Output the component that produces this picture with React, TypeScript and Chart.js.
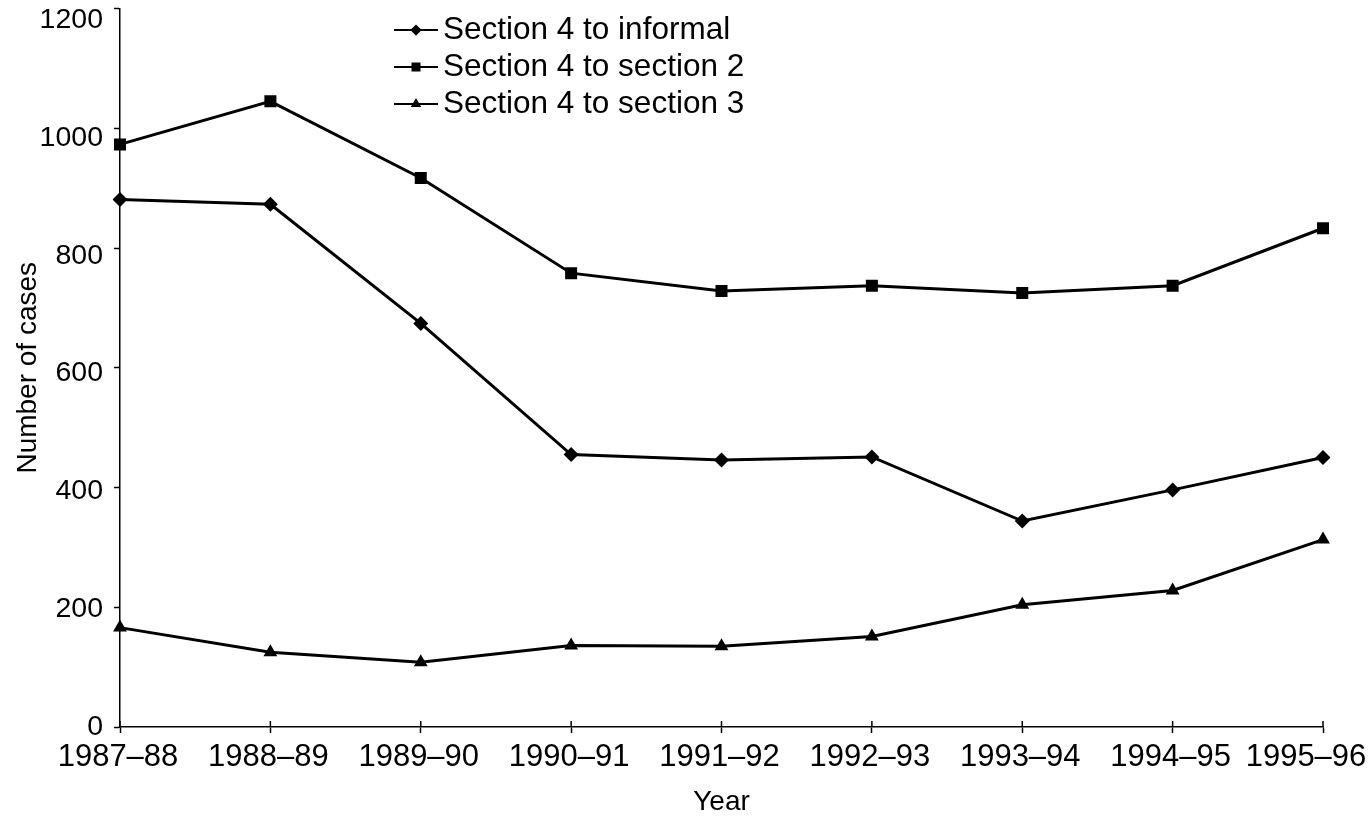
import React, { useEffect, useRef } from "react";
import { Chart, registerables } from "chart.js";

Chart.register(...registerables);

const years = ["1987–88", "1988–89", "1989–90", "1990–91", "1991–92", "1992–93", "1993–94", "1994–95", "1995–96"];
const toInformal = [881, 873, 674, 455, 446, 451, 344, 396, 450];
const toSection2 = [973, 1045, 917, 758, 728, 737, 725, 737, 833];
const toSection3 = [166, 125, 108, 136, 135, 151, 204, 228, 313];
const seriesNames = ["Section 4 to informal", "Section 4 to section 2", "Section 4 to section 3"];
const pointShapes = ["rectRot", "rect", "triangle"];
const pointSizes = [7.5, 8.5, 8];
const yMin = 0;
const yMax = 1200;
const yStep = 200;
const xTitle = "Year";
const yTitle = "Number of cases";

const FONT = "'Liberation Sans', Arial, Helvetica, sans-serif";
const LAST_LABEL_SHIFT = -15;
// the printed y labels sit slightly below their ticks, more so near the top
const Y_LABEL_DRIFT = 11.5;

function drawMarker(ctx: CanvasRenderingContext2D, shape: string, x: number, y: number, r: number) {
  ctx.beginPath();
  if (shape === "rectRot") {
    ctx.moveTo(x, y - r);
    ctx.lineTo(x + r, y);
    ctx.lineTo(x, y + r);
    ctx.lineTo(x - r, y);
    ctx.closePath();
  } else if (shape === "rect") {
    const s = r * Math.SQRT1_2;
    ctx.rect(x - s, y - s, 2 * s, 2 * s);
  } else {
    ctx.moveTo(x, y - r);
    ctx.lineTo(x + (r * Math.sqrt(3)) / 2, y + r / 2);
    ctx.lineTo(x - (r * Math.sqrt(3)) / 2, y + r / 2);
    ctx.closePath();
  }
  ctx.fill();
}

const legendPlugin = {
  id: "lineLegend",
  afterDraw(chart: any) {
    const ctx: CanvasRenderingContext2D = chart.ctx;
    ctx.save();
    const x0 = 394;
    const x1 = 438;
    const textX = 443;
    const rows = [30, 67, 104];
    chart.data.datasets.forEach((ds: any, i: number) => {
      const y = rows[i];
      ctx.strokeStyle = "#000";
      ctx.fillStyle = "#000";
      ctx.lineWidth = 2;
      ctx.beginPath();
      ctx.moveTo(x0, y);
      ctx.lineTo(x1, y);
      ctx.stroke();
      drawMarker(ctx, pointShapes[i], (x0 + x1) / 2, y, pointSizes[i] * 0.75);
      ctx.font = `31.5px ${FONT}`;
      ctx.textAlign = "left";
      ctx.textBaseline = "middle";
      ctx.fillText(ds.label, textX, y);
    });
    ctx.restore();
  },
};

const axisExtrasPlugin = {
  id: "axisExtras",
  afterDraw(chart: any) {
    const xs = chart.scales.x;
    const ys = chart.scales.y;
    const ctx: CanvasRenderingContext2D = chart.ctx;
    const bottom = chart.chartArea.bottom;
    ctx.save();
    ctx.strokeStyle = "#000";
    ctx.lineWidth = 1.5;
    xs.ticks.forEach((_t: any, i: number) => {
      const x = xs.getPixelForTick(i);
      ctx.beginPath();
      ctx.moveTo(x, bottom - 6);
      ctx.lineTo(x, bottom);
      ctx.stroke();
    });
    ctx.fillStyle = "#000";
    // last category label, nudged inward so it stays on the canvas
    const items = xs.getLabelItems();
    const last = items[items.length - 1];
    if (last) {
      const o = last.options;
      ctx.font = last.font && last.font.string ? last.font.string : `31px ${FONT}`;
      ctx.textAlign = "center";
      ctx.textBaseline = o.textBaseline;
      ctx.fillText(String(last.label), o.translation[0] + LAST_LABEL_SHIFT, o.translation[1] + (last.textOffset || 0));
    }
    // y labels, from the scale's own label items
    const yItems = ys.getLabelItems();
    yItems.forEach((it: any, i: number) => {
      const o = it.options;
      const v = ys.ticks[i] ? ys.ticks[i].value : 0;
      const drift = (v / yMax) * Y_LABEL_DRIFT;
      ctx.font = it.font && it.font.string ? it.font.string : `28.5px ${FONT}`;
      ctx.textAlign = o.textAlign;
      ctx.textBaseline = o.textBaseline;
      ctx.fillText(String(it.label), o.translation[0], o.translation[1] + (it.textOffset || 0) + drift);
    });
    ctx.restore();
  },
};

export default function App() {
  const canvasRef = useRef<HTMLCanvasElement | null>(null);

  useEffect(() => {
    if (!canvasRef.current) return;
    const seriesValues = [toInformal, toSection2, toSection3];
    const lastIndex = years.length - 1;
    const chart = new Chart(canvasRef.current, {
      type: "line",
      data: {
        labels: years,
        datasets: seriesValues.map((vals, i) => ({
          label: seriesNames[i],
          data: vals,
          borderColor: "#000",
          backgroundColor: "#000",
          borderWidth: 3,
          pointStyle: pointShapes[i] as any,
          pointRadius: pointSizes[i],
          pointBackgroundColor: "#000",
          pointBorderColor: "#000",
          pointBorderWidth: 0,
          tension: 0,
          fill: false,
        })),
      },
      options: {
        animation: false,
        responsive: true,
        maintainAspectRatio: false,
        devicePixelRatio: 1,
        layout: { padding: { top: 2, right: 49, bottom: 0, left: 0 } },
        plugins: {
          legend: { display: false },
          tooltip: { enabled: false },
        },
        scales: {
          x: {
            type: "category",
            offset: false,
            afterFit: (s: any) => {
              s.height = 89;
              s.paddingLeft = 0;
              s.paddingRight = 0;
            },
            border: { display: true, color: "#000", width: 1.5 },
            grid: {
              display: true,
              drawOnChartArea: false,
              drawTicks: true,
              tickLength: 6,
              tickWidth: 1.5,
              tickColor: "#000",
            },
            ticks: {
              color: (c: any) => (c.index === lastIndex ? "rgba(0,0,0,0)" : "#000"),
              font: { family: FONT, size: 31 },
              padding: 6,
              labelOffset: -2,
              maxRotation: 0,
              autoSkip: false,
            },
            title: {
              display: true,
              text: xTitle,
              color: "#000",
              font: { family: FONT, size: 28, lineHeight: 1.0 },
              padding: { top: 0, bottom: 0 },
            },
          },
          y: {
            min: yMin,
            max: yMax,
            afterFit: (s: any) => {
              s.width = 120;
              s.paddingTop = 0;
              s.paddingBottom = 0;
            },
            border: { display: true, color: "#000", width: 1.5 },
            grid: {
              display: true,
              drawOnChartArea: false,
              drawTicks: true,
              tickLength: 6,
              tickWidth: 1.5,
              tickColor: "#000",
            },
            ticks: {
              stepSize: yStep,
              color: "rgba(0,0,0,0)",
              font: { family: FONT, size: 28.5 },
              padding: 11,
              callback: (v: any) => String(v),
            },
            title: {
              display: true,
              text: yTitle,
              color: "#000",
              font: { family: FONT, size: 28, lineHeight: 1.2 },
              padding: { top: 11, bottom: 0 },
            },
          },
        },
      },
      plugins: [legendPlugin, axisExtrasPlugin],
    });
    return () => chart.destroy();
  }, []);

  return (
    <div style={{ position: "absolute", left: 0, top: 0, width: 1372, height: 816, background: "#fff" }}>
      <canvas ref={canvasRef} />
    </div>
  );
}
